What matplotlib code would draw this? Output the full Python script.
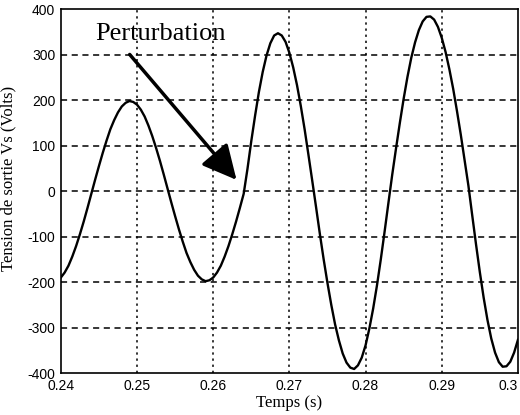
import matplotlib
matplotlib.use("Agg")
import matplotlib.pyplot as plt

# time axis (s), sampled every 0.5 ms
t = [0.2400 + 0.0005 * i for i in range(121)]

# output voltage Vs (V)
vs = [
    -190, -179, -164, -144, -121, -95, -67, -37, -6, 25,
    55, 84, 111, 136, 156, 173, 186, 194, 198, 196,
    190, 179, 164, 144, 121, 95, 67, 37, 6, -25,
    -55, -84, -111, -136, -156, -173, -186, -194, -198, -196,
    -190, -179, -164, -144, -121, -95, -67, -37, -6, 49,
    110, 166, 218, 262, 298, 325, 342, 347, 342, 328,
    304, 272, 233, 187, 136, 80, 23, -35, -94, -150,
    -202, -250, -293, -328, -357, -377, -388, -391, -383, -366,
    -339, -302, -258, -207, -150, -89, -26, 36, 94, 150,
    203, 251, 293, 327, 354, 373, 383, 384, 377, 361,
    337, 306, 268, 225, 176, 124, 68, 12, -53, -117,
    -178, -234, -283, -324, -355, -376, -386, -385, -375, -355,
    -327,
]

xticks = [0.24, 0.25, 0.26, 0.27, 0.28, 0.29, 0.30]
xticklabels = ["0.24", "0.25", "0.26", "0.27", "0.28", "0.29", "0.3"]
yticks = [-400, -300, -200, -100, 0, 100, 200, 300, 400]

serif = ["Liberation Serif", "DejaVu Serif"]

fig = plt.figure(figsize=(5.2, 4.15), dpi=100)
ax = fig.add_axes([0.117, 0.101, 0.879, 0.877])

ax.plot(t, vs, color="black", linewidth=1.7)

ax.set_xlim(0.24, 0.30)
ax.set_ylim(-400, 400)
ax.set_xticks(xticks)
ax.set_xticklabels(xticklabels, family="Liberation Sans", fontsize=10)
ax.get_xticklabels()[-1].set_horizontalalignment("right")
ax.set_yticks(yticks)
ax.set_yticklabels([str(v) for v in yticks], family="Liberation Sans", fontsize=10)
ax.tick_params(length=0, pad=4)

for y in yticks[1:-1]:
    ax.axhline(y, color="black", linewidth=1.1, dashes=(4, 3))
for x in xticks[1:-1]:
    ax.axvline(x, color="black", linewidth=1.1, dashes=(1.5, 2.5))

for s in ax.spines.values():
    s.set_linewidth(1.2)

ax.set_xlabel("Temps (s)", family=serif, fontsize=12, labelpad=2)
ax.set_ylabel("Tension de sortie Vs (Volts)", family=serif, fontsize=12)
ax.yaxis.set_label_coords(-0.098, 0.535)

ax.annotate("", xy=(0.2633, 20), xytext=(0.2488, 305),
            arrowprops=dict(arrowstyle="-|>,head_length=2.1,head_width=1.05",
                            mutation_scale=10, color="black", linewidth=2.5))
ax.text(0.2445, 345, "Perturbation", family=serif, fontsize=19, ha="left", va="center")

fig.savefig("out.png", dpi=100)
